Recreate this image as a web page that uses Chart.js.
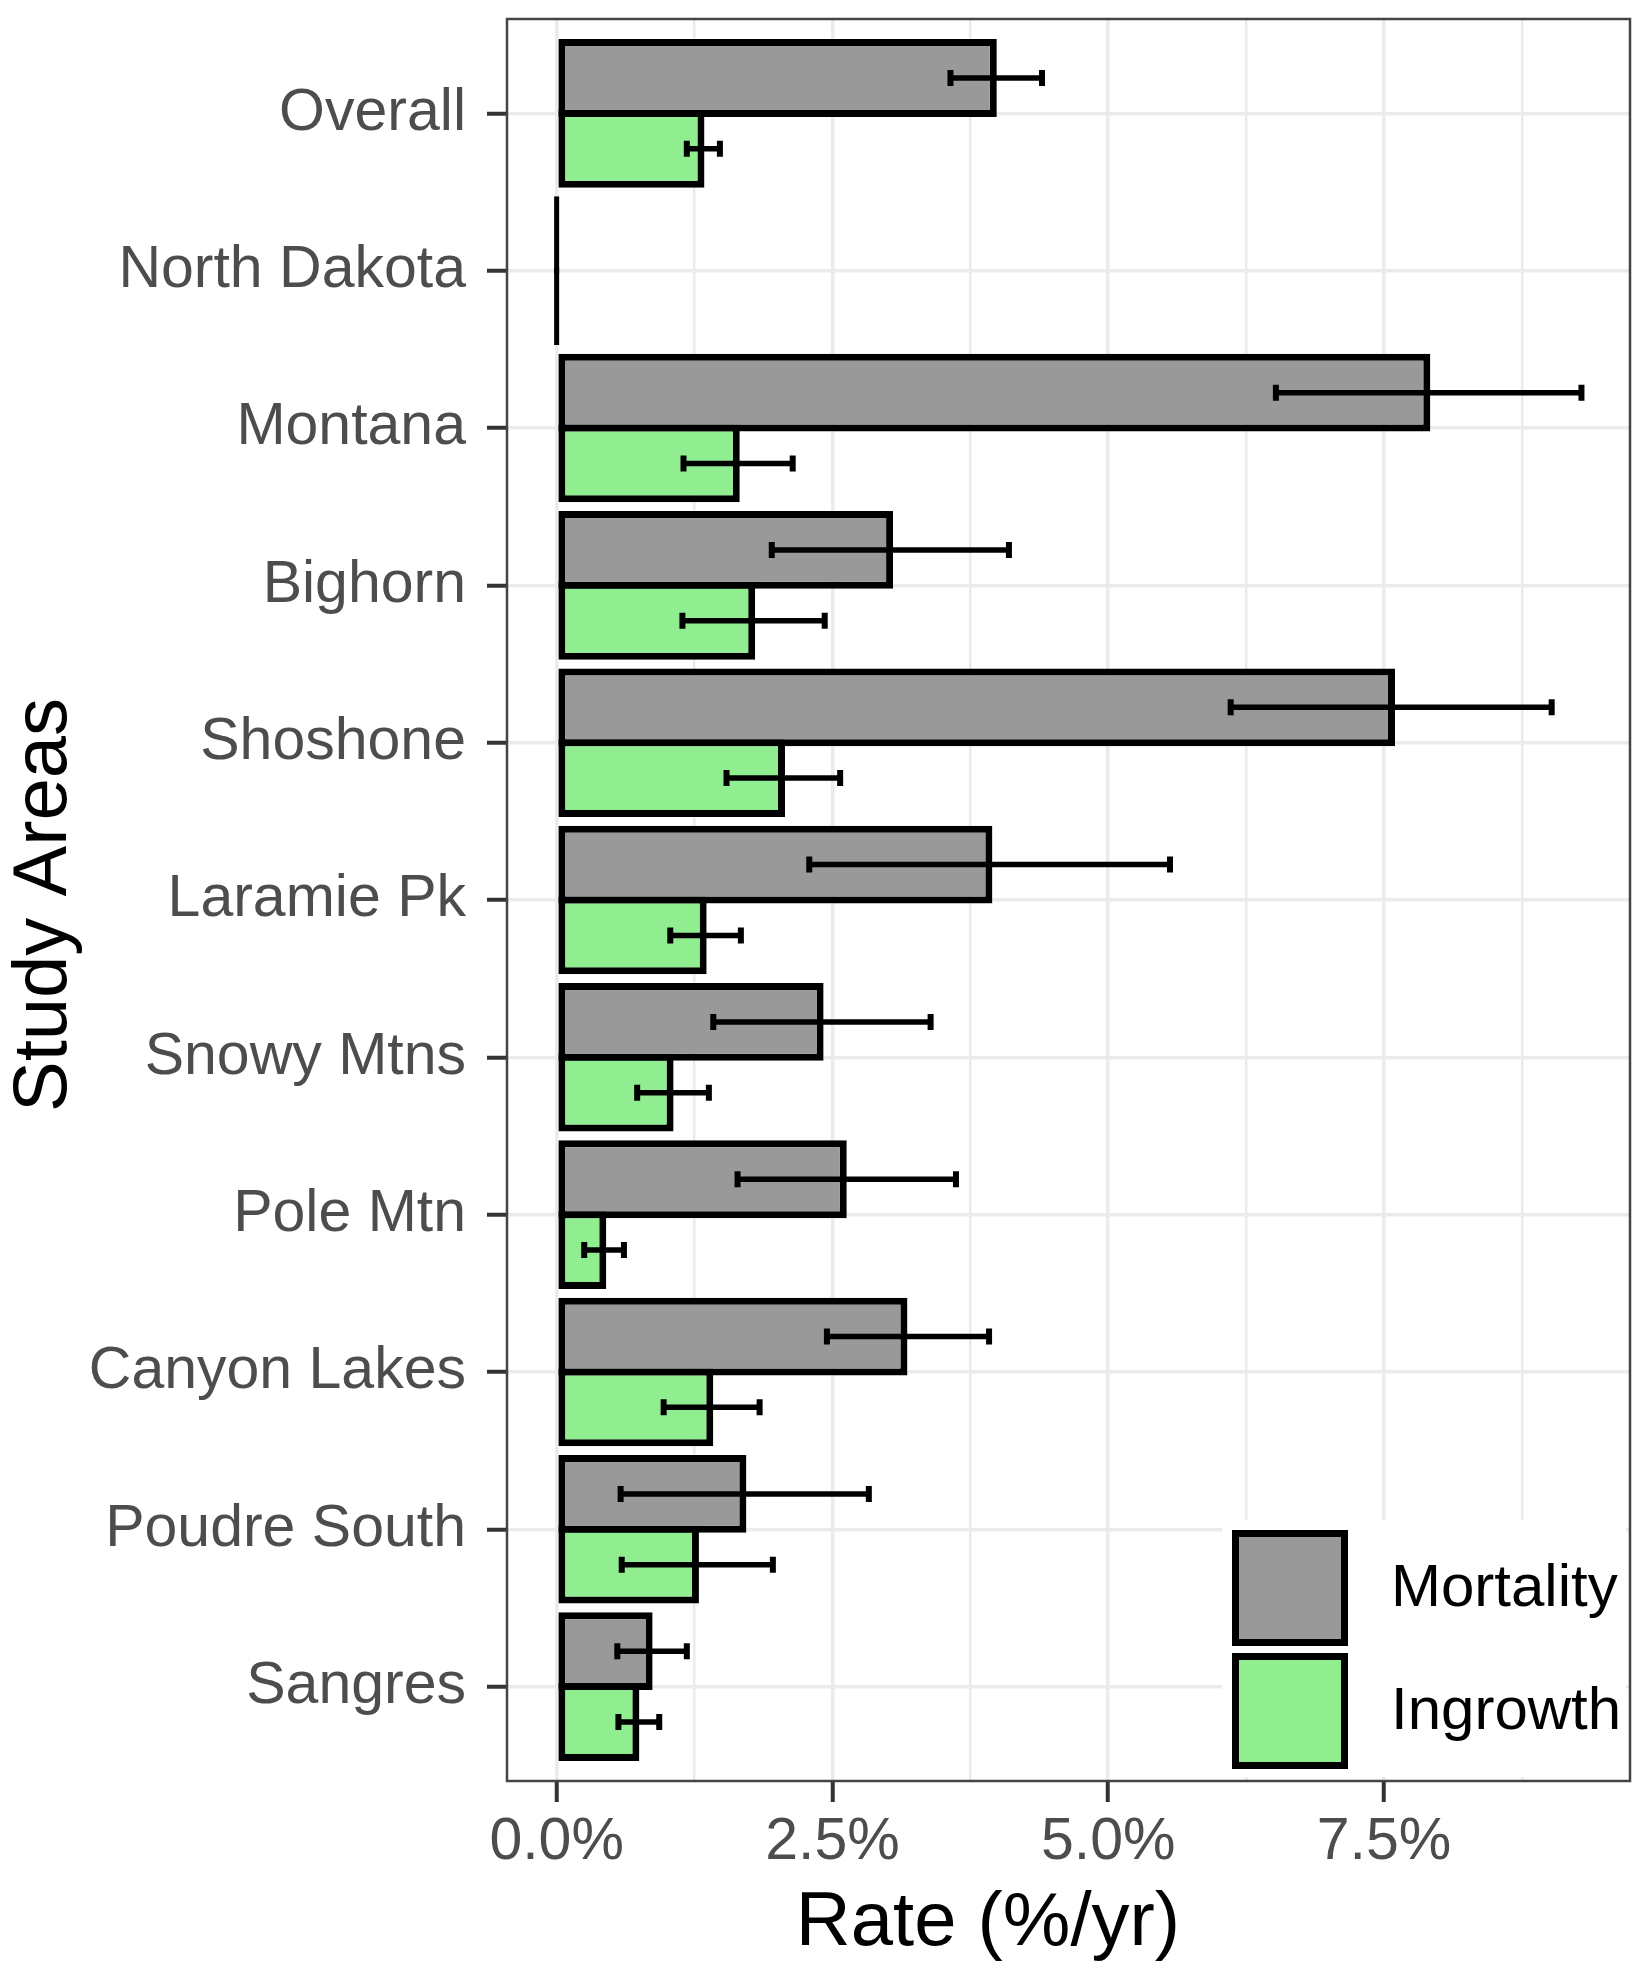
<!DOCTYPE html>
<html>
<head>
<meta charset="utf-8">
<script src="https://cdn.jsdelivr.net/npm/chart.js@4.4.1/dist/chart.umd.min.js"></script>
<style>
  html, body { margin: 0; padding: 0; background: #fff; overflow: hidden; }
  #wrap { position: relative; width: 1645px; height: 1971px; }
</style>
</head>
<body>
<div id="wrap"><canvas id="myCanvas"></canvas></div>
<script>
// study areas, top to bottom
const studyAreas = ['Overall', 'North Dakota', 'Montana', 'Bighorn', 'Shoshone', 'Laramie Pk',
                    'Snowy Mtns', 'Pole Mtn', 'Canyon Lakes', 'Poudre South', 'Sangres'];

// rates in %/yr
const mortality     = [3.99, 0, 7.92, 3.05, 7.60, 3.95, 2.42, 2.63, 3.18, 1.72, 0.87];
const mortalityLow  = [3.57, null, 6.52, 1.95, 6.11, 2.29, 1.42, 1.64, 2.45, 0.58, 0.55];
const mortalityHigh = [4.40, null, 9.29, 4.10, 9.02, 5.56, 3.39, 3.62, 3.92, 2.83, 1.18];

const ingrowth     = [1.34, 0, 1.66, 1.80, 2.07, 1.36, 1.06, 0.45, 1.42, 1.29, 0.75];
const ingrowthLow  = [1.18, null, 1.15, 1.14, 1.54, 1.03, 0.73, 0.25, 0.97, 0.59, 0.56];
const ingrowthHigh = [1.48, null, 2.14, 2.43, 2.57, 1.67, 1.38, 0.61, 1.84, 1.96, 0.93];

const xTicks = [0, 2.5, 5, 7.5];
const xMinorTicks = [1.25, 3.75, 6.25, 8.75];

const xTitle = 'Rate (%/yr)';
const yTitle = 'Study Areas';

const family = '"Liberation Sans", Arial, Helvetica, sans-serif';

// error bars + outline of zero length bars
const errorBars = {
  id: 'errorBars',
  afterDatasetsDraw(chart) {
    const ctx = chart.ctx;
    const xScale = chart.scales.x;
    const lows = [mortalityLow, ingrowthLow];
    const highs = [mortalityHigh, ingrowthHigh];
    ctx.save();
    ctx.strokeStyle = '#000';
    chart.data.datasets.forEach((ds, d) => {
      const meta = chart.getDatasetMeta(d);
      meta.data.forEach((bar, i) => {
        if (ds.data[i].x === 0) {
          ctx.lineWidth = 5;
          ctx.beginPath();
          ctx.moveTo(bar.x, bar.y - bar.height / 2);
          ctx.lineTo(bar.x, bar.y + bar.height / 2);
          ctx.stroke();
        }
        if (lows[d][i] == null) return;
        const x0 = xScale.getPixelForValue(lows[d][i]);
        const x1 = xScale.getPixelForValue(highs[d][i]);
        ctx.lineWidth = 5.5;
        ctx.beginPath();
        ctx.moveTo(x0, bar.y);
        ctx.lineTo(x1, bar.y);
        ctx.stroke();
        ctx.lineWidth = 6;
        ctx.beginPath();
        ctx.moveTo(x0, bar.y - 8);
        ctx.lineTo(x0, bar.y + 8);
        ctx.moveTo(x1, bar.y - 8);
        ctx.lineTo(x1, bar.y + 8);
        ctx.stroke();
      });
    });
    ctx.restore();
  }
};

// legend inside the panel, panel border, axis titles
const decorations = {
  id: 'decorations',
  afterDraw(chart) {
    const ctx = chart.ctx;
    const area = chart.chartArea;
    ctx.save();

    ctx.fillStyle = '#fff';
    ctx.fillRect(1222, 1520, 404, 257);
    chart.data.datasets.forEach((ds, d) => {
      const top = 1530 + d * 123;
      ctx.fillStyle = ds.backgroundColor;
      ctx.fillRect(1232, top, 116, 116);
      ctx.lineWidth = 7;
      ctx.strokeStyle = '#000';
      ctx.strokeRect(1235.5, top + 3.5, 109, 109);
      ctx.fillStyle = '#000';
      ctx.font = '60px ' + family;
      ctx.textAlign = 'left';
      ctx.textBaseline = 'middle';
      ctx.fillText(ds.label, 1391, top + 59);
    });

    ctx.lineWidth = 2.5;
    ctx.strokeStyle = '#444';
    ctx.strokeRect(area.left, area.top, area.right - area.left, area.bottom - area.top);

    ctx.fillStyle = '#000';
    ctx.font = '76px ' + family;
    ctx.textAlign = 'center';
    ctx.textBaseline = 'alphabetic';
    ctx.fillText(xTitle, 988, 1945);
    ctx.translate(66, 905);
    ctx.rotate(-Math.PI / 2);
    ctx.fillText(yTitle, 0, 0);
    ctx.restore();
  }
};

const ctx = document.getElementById('myCanvas').getContext('2d');
const chart = new Chart(ctx, {
  type: 'bar',
  data: {
    datasets: [
      {
        label: 'Mortality',
        data: mortality.map((v, i) => ({x: v, y: i})),
        backgroundColor: '#999999',
        borderColor: '#000',
        borderWidth: 7,
        borderSkipped: false,
        categoryPercentage: 0.9,
        barPercentage: 1.099
      },
      {
        label: 'Ingrowth',
        data: ingrowth.map((v, i) => ({x: v, y: i})),
        backgroundColor: '#90EE90',
        borderColor: '#000',
        borderWidth: 7,
        borderSkipped: false,
        categoryPercentage: 0.9,
        barPercentage: 1.099
      }
    ]
  },
  options: {
    indexAxis: 'y',
    responsive: true,
    maintainAspectRatio: false,
    animation: false,
    layout: { padding: { left: 0, right: 15, top: 19, bottom: 0 } },
    plugins: { legend: { display: false }, tooltip: { enabled: false } },
    scales: {
      x: {
        type: 'linear',
        min: -0.45,
        max: 9.73,
        afterBuildTicks: s => {
          s.ticks = [...xTicks, ...xMinorTicks].sort((a, b) => a - b).map(v => ({value: v}));
        },
        afterFit: s => {
          s.height = 190;
          s.paddingLeft = 0;
          s.paddingRight = 0;
        },
        border: { display: false },
        grid: {
          color: '#EBEBEB',
          lineWidth: c => (c.tick && xTicks.includes(c.tick.value)) ? 3.5 : 2.5,
          tickColor: c => (c.tick && xTicks.includes(c.tick.value)) ? '#333333' : 'rgba(0,0,0,0)',
          tickLength: 21,
          tickWidth: 4
        },
        ticks: {
          callback: v => xTicks.includes(v) ? v.toFixed(1) + '%' : '',
          color: '#4D4D4D',
          font: { size: 59, family: family },
          padding: 5,
          maxRotation: 0,
          autoSkip: false
        }
      },
      y: {
        type: 'linear',
        min: -0.6,
        max: 10.6,
        reverse: true,
        offset: false,
        afterBuildTicks: s => { s.ticks = studyAreas.map((n, i) => ({value: i})); },
        afterFit: s => {
          s.width = 507;
          s.paddingTop = 0;
          s.paddingBottom = 0;
        },
        border: { display: false },
        grid: {
          offset: false,
          color: '#EBEBEB',
          lineWidth: 3.5,
          tickColor: '#333333',
          tickLength: 20,
          tickWidth: 4
        },
        ticks: {
          callback: v => studyAreas[v],
          color: '#4D4D4D',
          font: { size: 59, family: family },
          padding: 21,
          autoSkip: false
        }
      }
    }
  },
  plugins: [errorBars, decorations]
});
</script>
</body>
</html>
